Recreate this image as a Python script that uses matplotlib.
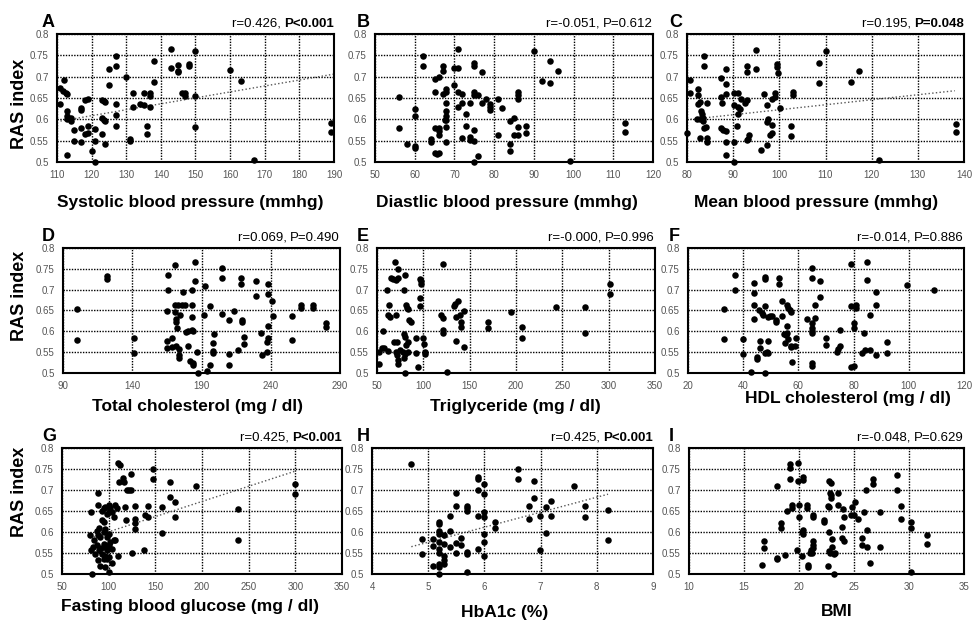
import matplotlib.pyplot as plt

plt.rcParams['font.family'] = ['Liberation Sans', 'DejaVu Sans']

W, H = 973, 623

# ---- data ----
a_x = [111, 111.6, 112, 111, 112.5, 113, 113, 113, 113, 114, 114, 113, 115, 115, 117, 117, 117, 117,
       118, 119, 119, 118, 119, 120, 121, 121, 121, 123, 123.5, 124, 123, 123.5, 124, 123, 124, 125,
       125, 127, 127, 127, 127, 127, 130, 131, 131, 132, 132, 134, 135, 135, 136, 136, 137, 137, 137,
       138, 138, 143, 143, 145, 145, 145, 146, 147, 147, 148, 148, 150, 150, 150, 160, 163, 167, 189, 189]
a_y = [0.673, 0.666, 0.693, 0.637, 0.662, 0.660, 0.620, 0.607, 0.600, 0.603, 0.597, 0.517, 0.576, 0.550,
       0.627, 0.623, 0.546, 0.580, 0.646, 0.648, 0.585, 0.565, 0.568, 0.525, 0.578, 0.549, 0.500, 0.646,
       0.642, 0.640, 0.603, 0.599, 0.595, 0.565, 0.542, 0.719, 0.681, 0.749, 0.726, 0.637, 0.611, 0.584,
       0.699, 0.554, 0.549, 0.662, 0.629, 0.636, 0.662, 0.634, 0.584, 0.565, 0.662, 0.654, 0.629, 0.736,
       0.688, 0.765, 0.720, 0.727, 0.714, 0.710, 0.662, 0.662, 0.655, 0.729, 0.724, 0.761, 0.654, 0.581,
       0.715, 0.691, 0.505, 0.592, 0.570]
a_fit_x = [111, 190]
a_fit_y = [0.596, 0.706]

b_x = [56, 56, 58, 60, 60, 60, 60, 62, 62, 65, 66, 65, 65, 66, 64, 64, 65, 65.5, 66, 66, 66, 67, 67, 67,
       68, 68, 68, 68, 68, 67.5, 68, 68, 68, 70, 70, 71, 71, 71, 71, 72, 72, 72, 73, 73, 74, 74, 74, 75,
       75, 75, 75, 75, 75, 75, 76, 76, 77, 77, 78, 79, 79, 79, 81, 81, 82, 84, 85, 84, 84, 85, 86, 86,
       86, 86, 86, 88, 88, 90, 92, 94, 94, 96, 99, 113, 113]
b_y = [0.653, 0.580, 0.543, 0.624, 0.608, 0.538, 0.533, 0.749, 0.726, 0.695, 0.700, 0.663, 0.579, 0.579,
       0.555, 0.547, 0.521, 0.518, 0.520, 0.573, 0.563, 0.726, 0.714, 0.659, 0.671, 0.663, 0.638, 0.620,
       0.607, 0.599, 0.598, 0.582, 0.547, 0.720, 0.681, 0.765, 0.720, 0.663, 0.630, 0.660, 0.638, 0.557,
       0.612, 0.585, 0.638, 0.559, 0.551, 0.732, 0.726, 0.665, 0.657, 0.575, 0.550, 0.500, 0.658, 0.515,
       0.710, 0.639, 0.648, 0.635, 0.628, 0.622, 0.647, 0.563, 0.627, 0.595, 0.603, 0.542, 0.526, 0.563,
       0.583, 0.663, 0.656, 0.648, 0.563, 0.585, 0.567, 0.760, 0.690, 0.736, 0.686, 0.714, 0.502, 0.591,
       0.571]

c_x = [80, 80.7, 80.7, 82.3, 82.3, 82.3, 82.8, 82.2, 82.8, 83, 83.2, 83.4, 83.5, 82.8, 83.7, 83.7, 83.7,
       84.2, 84.4, 84.4, 84.4, 87.3, 87.3, 87.5, 87.3, 87.8, 88.4, 88.4, 88.4, 88.4, 88.4, 88.4, 90.2,
       90.2, 90.2, 90.2, 90.8, 91, 91, 91, 91.4, 91.8, 92.6, 93, 93, 93, 93, 93.2, 93.4, 95, 95, 96,
       96.7, 97.3, 97.4, 97.6, 97.3, 97.9, 98.4, 98.4, 99, 99, 98.4, 99.4, 99.4, 99.8, 100.2, 102.6,
       102.6, 103, 103, 108.7, 108.7, 110, 115.6, 117.3, 121.5, 138.2, 138.2]
c_y = [0.568, 0.692, 0.661, 0.670, 0.657, 0.637, 0.641, 0.600, 0.600, 0.620, 0.612, 0.604, 0.595, 0.557,
       0.749, 0.724, 0.580, 0.582, 0.639, 0.557, 0.547, 0.698, 0.653, 0.639, 0.580, 0.576, 0.719, 0.682,
       0.659, 0.573, 0.548, 0.516, 0.661, 0.633, 0.548, 0.500, 0.584, 0.661, 0.629, 0.612, 0.625, 0.647,
       0.639, 0.724, 0.712, 0.645, 0.551, 0.554, 0.563, 0.763, 0.719, 0.527, 0.659, 0.634, 0.594, 0.600,
       0.541, 0.563, 0.586, 0.647, 0.653, 0.661, 0.567, 0.729, 0.722, 0.708, 0.626, 0.584, 0.562, 0.663,
       0.657, 0.733, 0.684, 0.759, 0.688, 0.713, 0.504, 0.590, 0.570]
c_fit_x = [80, 138]
c_fit_y = [0.599, 0.667]

d_x = [100.3, 100.3, 121.6, 121.6, 141.2, 141.2, 165, 165, 165, 166, 166, 168.6, 168.6, 171, 171, 171,
       171.6, 171.6, 172, 171.6, 173, 174, 174, 174, 174.8, 176, 176.4, 178, 178.8, 180, 180.6, 181.6,
       183, 183, 183, 183, 183.6, 183.6, 184, 185, 185, 187, 187.4, 192, 192.6, 194, 196, 196, 199,
       198.6, 198.6, 198.6, 204.6, 205, 205, 209.6, 209.6, 209.6, 213.5, 216, 218.4, 218.4, 219.6,
       219.6, 220.5, 220.5, 229, 229, 233, 233.5, 238, 238, 238, 238, 237.4, 237.4, 241, 241.5, 255,
       255, 261.5, 261.5, 270.5, 270.5, 280, 280]
d_y = [0.653, 0.580, 0.732, 0.726, 0.583, 0.547, 0.649, 0.576, 0.561, 0.736, 0.698, 0.584, 0.563, 0.760,
       0.663, 0.647, 0.630, 0.623, 0.609, 0.565, 0.663, 0.558, 0.536, 0.544, 0.639, 0.663, 0.694, 0.663,
       0.598, 0.600, 0.565, 0.528, 0.663, 0.700, 0.635, 0.604, 0.600, 0.525, 0.519, 0.766, 0.721, 0.551,
       0.500, 0.639, 0.709, 0.505, 0.661, 0.519, 0.594, 0.573, 0.553, 0.547, 0.641, 0.752, 0.727, 0.628,
       0.545, 0.519, 0.649, 0.554, 0.727, 0.713, 0.628, 0.623, 0.587, 0.569, 0.721, 0.684, 0.595, 0.543,
       0.713, 0.689, 0.614, 0.585, 0.574, 0.551, 0.673, 0.637, 0.637, 0.579, 0.663, 0.656, 0.663, 0.656,
       0.621, 0.611]

e_x = [69.6, 72.5, 65.2, 67, 70.7, 72.5, 79.7, 60.9, 79, 96, 97.8, 97.8, 96.7, 96, 63.4, 61.6, 64.5, 70.7,
       81.5, 82.6, 83.3, 85, 87, 56, 52.5, 55, 58, 61.6, 52.5, 68.8, 71.7, 70.7, 71.7, 72.5, 73.2, 74.3,
       79, 80.4, 83.3, 81.5, 83.3, 80.4, 79, 77.9, 79.7, 92.4, 92.4, 94.2, 99.6, 100.7, 101.4, 101.4,
       121.4, 118.8, 121.4, 121.4, 121.4, 126, 133.3, 134, 137.7, 135, 139.5, 140.6, 140.6, 144.2, 135,
       144.2, 169.5, 169.5, 195, 206, 206, 243, 274, 274, 301, 301]
e_y = [0.766, 0.750, 0.729, 0.725, 0.724, 0.728, 0.734, 0.700, 0.700, 0.725, 0.720, 0.713, 0.681, 0.660,
       0.662, 0.640, 0.635, 0.640, 0.664, 0.657, 0.654, 0.627, 0.623, 0.601, 0.550, 0.559, 0.559, 0.553,
       0.521, 0.575, 0.575, 0.551, 0.543, 0.531, 0.521, 0.555, 0.593, 0.587, 0.575, 0.567, 0.551, 0.545,
       0.537, 0.550, 0.501, 0.585, 0.547, 0.515, 0.585, 0.569, 0.551, 0.545, 0.761, 0.638, 0.631, 0.603,
       0.595, 0.503, 0.660, 0.665, 0.673, 0.635, 0.640, 0.622, 0.611, 0.649, 0.578, 0.563, 0.623, 0.607,
       0.647, 0.611, 0.583, 0.659, 0.659, 0.597, 0.714, 0.689]

f_x = [32.9, 32.9, 36.9, 36.9, 39.9, 39.9, 43, 43.9, 43.9, 43.9, 43.9, 45, 45, 45.9, 46, 46, 46.8, 47,
       47.8, 47.8, 47.8, 47.8, 48, 48.6, 48.9, 48.9, 48.9, 49.8, 50.4, 51.9, 52, 53, 53, 54, 54, 54.8,
       55, 55.6, 56, 56, 56.2, 56.8, 57.2, 56, 56.4, 57.4, 57.4, 57.8, 58.8, 59.1, 63, 64.8, 64.8, 64.8,
       65, 65, 65, 65, 65, 66, 66, 68, 68, 70, 70, 74, 74.3, 74.9, 74.9, 79, 79, 79, 80, 80, 80, 81, 81,
       83.2, 83.6, 84.2, 85, 85, 85.8, 86, 88, 88, 88, 92.2, 92.2, 99.2, 109.2]
f_y = [0.653, 0.581, 0.736, 0.699, 0.581, 0.546, 0.502, 0.715, 0.691, 0.663, 0.629, 0.538, 0.534, 0.651,
       0.577, 0.561, 0.645, 0.639, 0.731, 0.725, 0.661, 0.500, 0.548, 0.550, 0.577, 0.635, 0.547, 0.637,
       0.637, 0.627, 0.623, 0.727, 0.714, 0.673, 0.637, 0.594, 0.571, 0.592, 0.613, 0.664, 0.657, 0.652,
       0.647, 0.597, 0.582, 0.566, 0.563, 0.526, 0.565, 0.583, 0.629, 0.621, 0.609, 0.602, 0.597, 0.752,
       0.727, 0.523, 0.516, 0.664, 0.633, 0.721, 0.683, 0.585, 0.567, 0.551, 0.558, 0.565, 0.603, 0.762,
       0.660, 0.515, 0.518, 0.621, 0.609, 0.664, 0.657, 0.548, 0.595, 0.554, 0.766, 0.722, 0.639, 0.556,
       0.694, 0.663, 0.543, 0.574, 0.548, 0.710, 0.699]

g_x = [81, 88.6, 88.6, 92.8, 95.4, 96.4, 100, 100, 101.8, 98.2, 103.5, 105.3, 107, 109, 110, 112.5, 110.7,
       115.3, 116, 124.3, 119.6, 122, 124, 117.8, 127.8, 119, 127.8, 127.8, 128.5, 142, 139, 142, 147,
       147, 157, 157, 166, 166, 170.7, 170.7, 137.5, 125, 109.6, 104, 100, 82, 80.3, 84, 87.5, 89.3,
       92.8, 94.6, 88.6, 91, 94.6, 96.4, 98, 100, 81.4, 82.8, 87.5, 89.3, 92, 94.6, 96.4, 98, 100,
       101.8, 105.3, 107, 92.8, 96.4, 98, 91, 95.7, 100, 103.5, 85.7, 94.6, 88.6, 194, 239, 239, 300, 300]
g_y = [0.648, 0.694, 0.664, 0.651, 0.656, 0.660, 0.664, 0.648, 0.656, 0.643, 0.648, 0.635, 0.664, 0.656,
       0.764, 0.760, 0.720, 0.728, 0.720, 0.738, 0.700, 0.699, 0.699, 0.660, 0.662, 0.628, 0.630, 0.622,
       0.608, 0.662, 0.640, 0.635, 0.750, 0.726, 0.660, 0.598, 0.720, 0.683, 0.672, 0.636, 0.558, 0.550,
       0.544, 0.526, 0.504, 0.500, 0.594, 0.580, 0.602, 0.610, 0.628, 0.624, 0.592, 0.588, 0.600, 0.608,
       0.588, 0.596, 0.556, 0.564, 0.568, 0.556, 0.563, 0.572, 0.564, 0.556, 0.568, 0.576, 0.582, 0.580,
       0.548, 0.544, 0.536, 0.520, 0.516, 0.540, 0.560, 0.548, 0.536, 0.534, 0.709, 0.654, 0.581, 0.715,
       0.690]
g_fit_x = [80, 300]
g_fit_y = [0.586, 0.745]

h_x = [4.69, 4.89, 4.89, 5.09, 5.09, 5.09, 5.19, 5.19, 5.19, 5.19, 5.19, 5.19, 5.19, 5.19, 5.19, 5.19,
       5.29, 5.29, 5.29, 5.29, 5.29, 5.39, 5.39, 5.39, 5.49, 5.49, 5.49, 5.49, 5.59, 5.59, 5.69, 5.69,
       5.69, 5.69, 5.69, 5.69, 5.89, 5.89, 5.89, 5.89, 5.89, 5.99, 5.99, 5.99, 5.99, 5.99, 5.99, 5.99,
       6.19, 6.19, 6.6, 6.6, 6.79, 6.8, 6.89, 6.89, 6.99, 6.99, 7.09, 7.09, 7.19, 7.19, 7.6, 7.79, 7.79,
       8.2, 8.2]
h_y = [0.761, 0.583, 0.547, 0.583, 0.567, 0.520, 0.625, 0.619, 0.603, 0.595, 0.577, 0.559, 0.551, 0.523,
       0.517, 0.500, 0.593, 0.571, 0.543, 0.533, 0.525, 0.638, 0.603, 0.565, 0.694, 0.663, 0.575, 0.551,
       0.585, 0.568, 0.663, 0.657, 0.649, 0.552, 0.547, 0.504, 0.732, 0.726, 0.700, 0.639, 0.559, 0.714,
       0.690, 0.647, 0.635, 0.595, 0.577, 0.543, 0.623, 0.609, 0.750, 0.726, 0.662, 0.630, 0.721, 0.682,
       0.639, 0.556, 0.659, 0.597, 0.673, 0.638, 0.709, 0.662, 0.635, 0.653, 0.581]
h_fit_x = [4.7, 8.2]
h_fit_y = [0.565, 0.690]

i_x = [16.6, 16.8, 16.8, 18, 18, 18, 18.4, 18.4, 18.7, 18.9, 19.2, 19.2, 19.2, 19.4, 19.4, 19.8, 19.9,
       19.9, 20, 20, 20.3, 20.4, 20.4, 20.3, 20.4, 20.4, 20.7, 20.7, 20.8, 20.8, 21, 21.1, 21.2, 21.3,
       21.3, 21.3, 21.3, 21.3, 22.3, 22.3, 22.6, 22.7, 22.7, 22.9, 22.9, 22.9, 22.8, 22.7, 22.6, 22.7,
       22.8, 23, 23, 23.2, 23.3, 23.2, 23.5, 23.5, 23.9, 23.9, 24, 24.1, 24.1, 24.7, 24.8, 25, 25.1,
       25.4, 25.7, 25.7, 25.9, 26.1, 26.2, 26.2, 26.5, 26.7, 26.7, 27.4, 27.4, 28.9, 28.9, 29.3, 29.3,
       30.2, 30.2, 30.2, 31.6, 31.6]
i_y = [0.521, 0.578, 0.562, 0.710, 0.539, 0.535, 0.622, 0.609, 0.545, 0.650, 0.761, 0.752, 0.726, 0.665,
       0.657, 0.557, 0.765, 0.722, 0.664, 0.635, 0.601, 0.596, 0.605, 0.543, 0.731, 0.724, 0.664, 0.657,
       0.521, 0.517, 0.551, 0.557, 0.551, 0.640, 0.636, 0.578, 0.570, 0.562, 0.629, 0.625, 0.661, 0.599,
       0.722, 0.717, 0.687, 0.682, 0.692, 0.660, 0.518, 0.555, 0.549, 0.583, 0.564, 0.547, 0.551, 0.500,
       0.693, 0.664, 0.613, 0.586, 0.654, 0.578, 0.636, 0.640, 0.660, 0.640, 0.672, 0.630, 0.586, 0.569,
       0.648, 0.699, 0.604, 0.564, 0.527, 0.726, 0.714, 0.648, 0.565, 0.735, 0.699, 0.662, 0.630, 0.625,
       0.609, 0.505, 0.594, 0.572]

y_ticks = [0.5, 0.55, 0.6, 0.65, 0.7, 0.75, 0.8]
y_tick_labels = ['0.5', '0.55', '0.6', '0.65', '0.7', '0.75', '0.8']

# box = (left, top, right, bottom) in pixels
panels = [
    dict(letter='A', x=a_x, y=a_y, box=(57, 34, 334, 162), xlim=(110, 190), step=10,
         r='r=0.426, ', p='P<0.001', bold=True, fit=(a_fit_x, a_fit_y),
         xlabel='Systolic blood pressure (mmhg)', xl=(190, 202), lx=42),
    dict(letter='B', x=b_x, y=b_y, box=(375, 34, 653, 162), xlim=(50, 120), step=10,
         r='r=-0.051, ', p='P=0.612', bold=False, fit=None,
         xlabel='Diastlic blood pressure (mmhg)', xl=(507, 203), lx=357),
    dict(letter='C', x=c_x, y=c_y, box=(687, 34, 964, 162), xlim=(80, 140), step=10,
         r='r=0.195, ', p='P=0.048', bold=True, fit=(c_fit_x, c_fit_y),
         xlabel='Mean blood pressure (mmhg)', xl=(816, 203), lx=669),
    dict(letter='D', x=d_x, y=d_y, box=(63, 248, 340, 373), xlim=(90, 290), step=50,
         r='r=0.069, ', p='P=0.490', bold=False, fit=None,
         xlabel='Total cholesterol (mg / dl)', xl=(198, 407), lx=42),
    dict(letter='E', x=e_x, y=e_y, box=(377, 248, 655, 373), xlim=(50, 350), step=50,
         r='r=-0.000, ', p='P=0.996', bold=False, fit=None,
         xlabel='Triglyceride (mg / dl)', xl=(515, 407), lx=357),
    dict(letter='F', x=f_x, y=f_y, box=(688, 248, 964, 373), xlim=(20, 120), step=20,
         r='r=-0.014, ', p='P=0.886', bold=False, fit=None,
         xlabel='HDL cholesterol (mg / dl)', xl=(848, 398), lx=669),
    dict(letter='G', x=g_x, y=g_y, box=(62, 448, 342, 574), xlim=(50, 350), step=50,
         r='r=0.425, ', p='P<0.001', bold=True, fit=(g_fit_x, g_fit_y),
         xlabel='Fasting blood glucose (mg / dl)', xl=(190, 607), lx=42),
    dict(letter='H', x=h_x, y=h_y, box=(372, 448, 653, 574), xlim=(4, 9), step=1,
         r='r=0.425, ', p='P<0.001', bold=True, fit=(h_fit_x, h_fit_y),
         xlabel='HbA1c (%)', xl=(505, 612), lx=357),
    dict(letter='I', x=i_x, y=i_y, box=(689, 448, 964, 574), xlim=(10, 35), step=5,
         r='r=-0.048, ', p='P=0.629', bold=False, fit=None,
         xlabel='BMI', xl=(837, 612), lx=669),
]
ylabel_centers = [104, 296, 492]

fig = plt.figure(figsize=(W / 100, H / 100), dpi=100)

for k, pn in enumerate(panels):
    l, t, r, b = pn['box']
    ax = fig.add_axes([l / W, 1 - b / H, (r - l) / W, (b - t) / H])
    ax.scatter(pn['x'], pn['y'], s=22, color='black', linewidths=0, zorder=3, clip_on=False)
    if pn['fit'] is not None:
        ax.plot(pn['fit'][0], pn['fit'][1], color='#555555', ls=':', lw=1.0, zorder=2)
    x0, x1 = pn['xlim']
    ax.set_xlim(x0, x1)
    ax.set_ylim(0.5, 0.8)
    ax.set_xticks(list(range(x0, x1 + 1, pn['step'])))
    ax.set_yticks(y_ticks)
    ax.set_yticklabels(y_tick_labels)
    ax.tick_params(length=0, labelsize=7, labelcolor='#555555', pad=6)
    ax.grid(True, color='black', ls=(0, (1, 1)), lw=1.0)
    ax.set_axisbelow(True)
    for s in ax.spines.values():
        s.set_linewidth(1.5)
        s.set_color('black')

    # correlation text, p-value may be bold
    pt = ax.annotate(pn['p'], xy=(1, 1), xycoords='axes fraction', xytext=(0, 4),
                     textcoords='offset pixels', ha='right', va='bottom', fontsize=9.5,
                     fontweight='bold' if pn['bold'] else 'normal')
    ax.annotate(pn['r'], xy=(0, 0), xycoords=pt, ha='right', va='bottom', fontsize=9.5)

    fig.text(pn['lx'] / W, 1 - (t - 7) / H, pn['letter'], fontsize=13, fontweight='bold',
             ha='left', va='baseline')
    fig.text(pn['xl'][0] / W, 1 - pn['xl'][1] / H, pn['xlabel'], fontsize=12.5, fontweight='bold',
             ha='center', va='center')
    if k % 3 == 0:
        fig.text(20 / W, 1 - ylabel_centers[k // 3] / H, 'RAS index', fontsize=13, fontweight='bold',
                 rotation=90, ha='center', va='center')

fig.savefig('out.png', dpi=100)
